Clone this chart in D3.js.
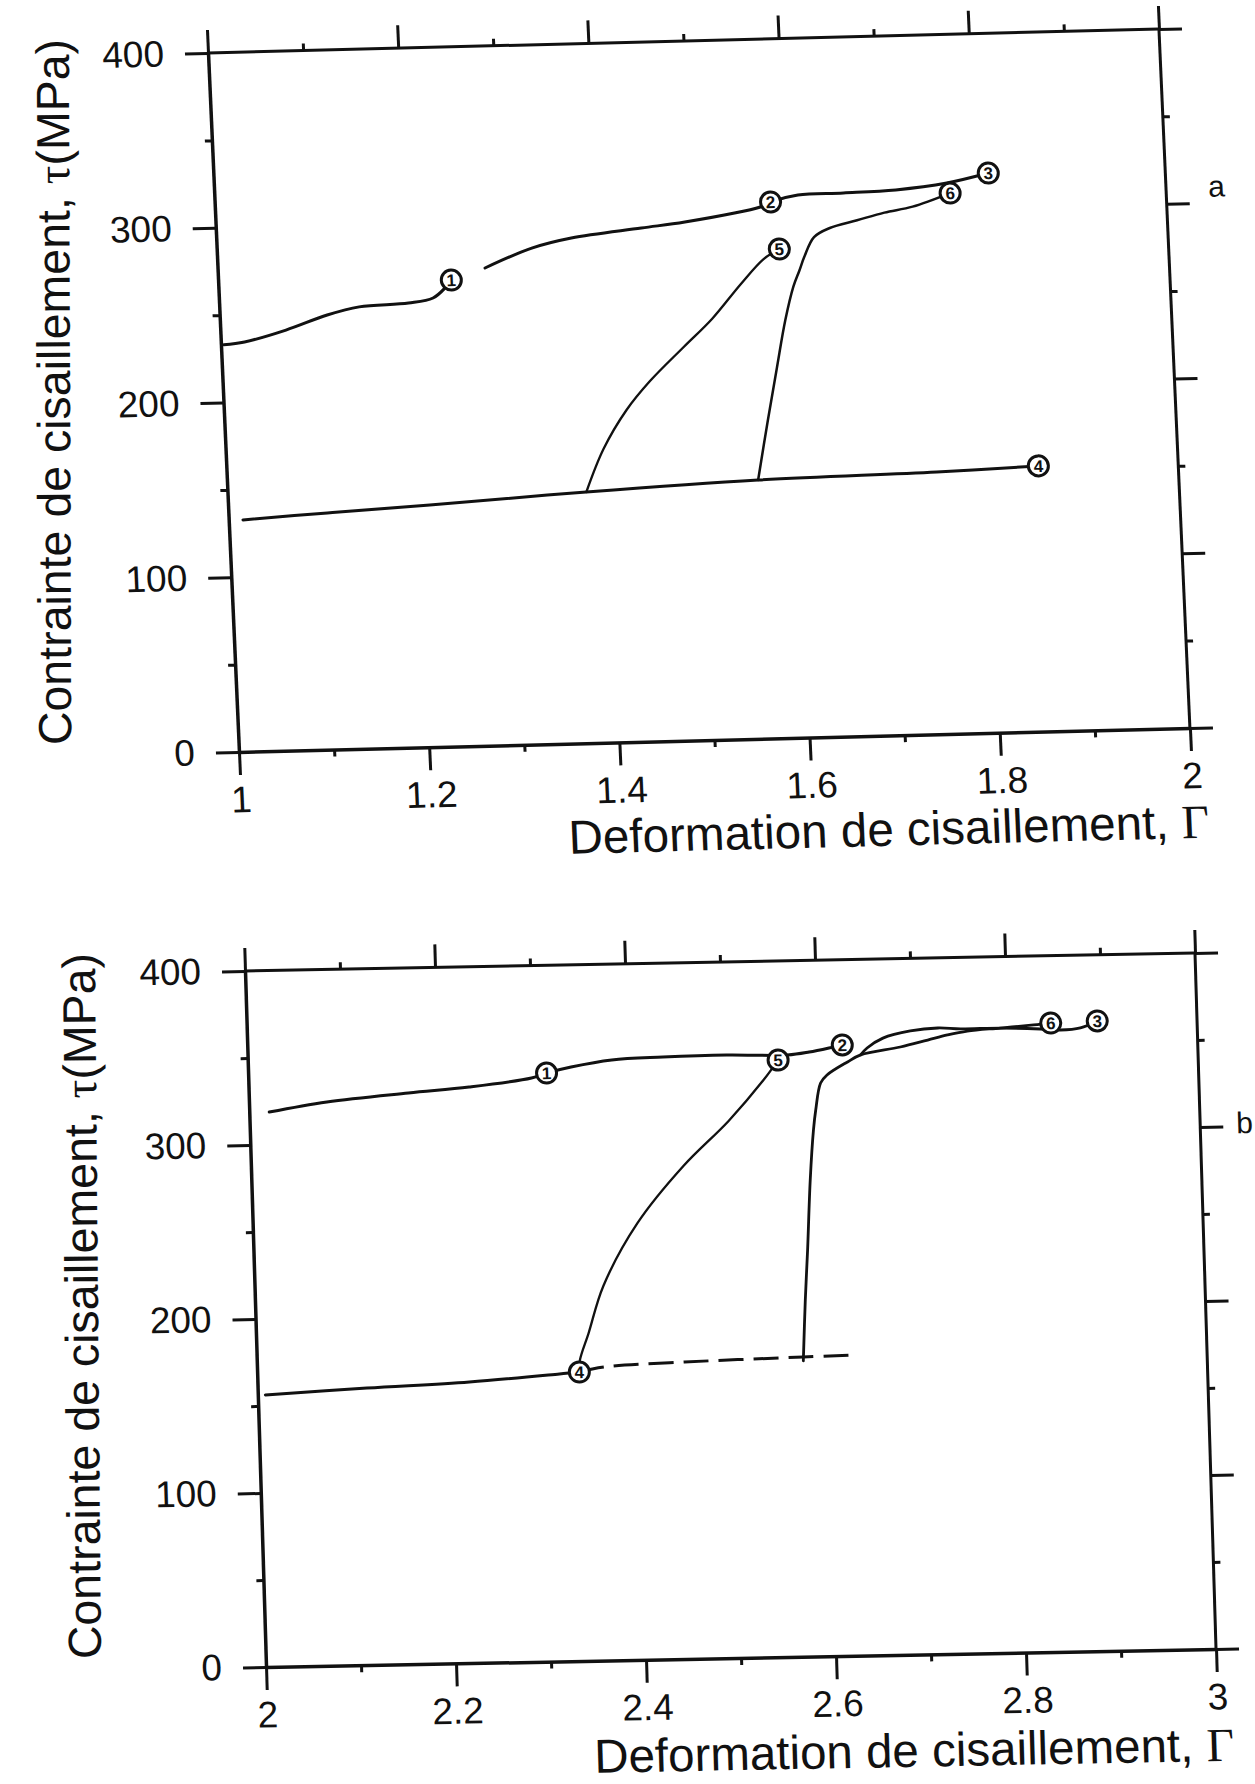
<!DOCTYPE html>
<html>
<head>
<meta charset="utf-8">
<script src="https://cdn.jsdelivr.net/npm/d3@7"></script>
<style>
  body { margin: 0; background: #fff; }
  svg { display: block; }
  text { font-family: "Liberation Sans", Arial, sans-serif; fill: #111; }
</style>
</head>
<body>
<div id="chart"></div>
<script>
// ticks
var xTicksA = [1, 1.2, 1.4, 1.6, 1.8, 2];
var xMinorA = [1.1, 1.3, 1.5, 1.7, 1.9];
var xTicksB = [2, 2.2, 2.4, 2.6, 2.8, 3];
var xMinorB = [2.1, 2.3, 2.5, 2.7, 2.9];
var yTicks = [0, 100, 200, 300, 400];
var yMinor = [50, 150, 250, 350];

// panel a : [Gamma, tau]
var a1Left = [[1.003, 233], [1.025, 234.3], [1.069, 240.5], [1.113, 248.5], [1.147, 252.7], [1.199, 254.2], [1.225, 256.7], [1.239, 262.8], [1.245, 266.7]];
var a1Right = [[1.281, 273.1], [1.331, 283.8], [1.373, 289], [1.447, 293.7], [1.493, 296.5], [1.573, 304], [1.584, 306.7], [1.613, 310.3], [1.661, 310.8], [1.716, 311.8], [1.770, 315], [1.814, 320.1]];
var a4 = [[1.015, 132.6], [1.104, 135.4], [1.212, 138.4], [1.377, 143.6], [1.558, 148], [1.746, 150], [1.853, 152]];
var a5 = [[1.377, 143.6], [1.397, 167.9], [1.423, 189.9], [1.449, 206.1], [1.486, 225.1], [1.517, 240.7], [1.549, 260.3], [1.574, 274.2], [1.591, 279.7]];
var a6 = [[1.558, 148], [1.571, 182], [1.583, 212], [1.594, 239], [1.604, 258], [1.611, 267], [1.617, 275], [1.628, 286], [1.645, 291], [1.674, 295], [1.703, 299], [1.733, 302], [1.773, 309.2]];
var markersA = [[1, 1.245, 266.7], [2, 1.584, 306.7], [3, 1.814, 320.1], [4, 1.853, 152], [5, 1.591, 279.7], [6, 1.773, 309.2]];

// panel b
var b1 = [[2.021, 318.7], [2.082, 323.9], [2.168, 328.2], [2.232, 330.9], [2.298, 335.4], [2.314, 338.1], [2.340, 341.3], [2.383, 344.9], [2.437, 346], [2.504, 346.5], [2.568, 345.8], [2.591, 347.3], [2.617, 350], [2.626, 351]];
var b3 = [[2.645, 345.1], [2.652, 349], [2.669, 354.5], [2.698, 358.3], [2.727, 359.7], [2.751, 358.9], [2.793, 359], [2.835, 358], [2.856, 357.2], [2.877, 358.2], [2.895, 362]];
var b6 = [[2.575, 170], [2.579, 204.9], [2.583, 233.6], [2.588, 273.8], [2.593, 302.5], [2.596, 313.9], [2.602, 329.4], [2.609, 333.9], [2.631, 341.2], [2.645, 345.1], [2.687, 349.2], [2.716, 352.9], [2.737, 355.6], [2.758, 357.6], [2.793, 359], [2.828, 360.4], [2.846, 361.3]];
var b5 = [[2.339, 166], [2.340, 172.9], [2.350, 188.3], [2.367, 215.2], [2.405, 251], [2.455, 283.2], [2.504, 308.6], [2.542, 331.7], [2.558, 343]];
var b4 = [[2.008, 156.3], [2.115, 159.1], [2.223, 161.5], [2.318, 165.1], [2.339, 166]];
var b4Dash = [[2.339, 166], [2.365, 168.6], [2.450, 170.6], [2.575, 172.2], [2.628, 172.8]];
var markersB = [[1, 2.314, 338.1], [2, 2.626, 351], [3, 2.895, 362], [4, 2.339, 166], [5, 2.558, 343], [6, 2.846, 361.3]];

var W = 1255, H = 1784;
var ink = "#111";
var font = "Liberation Sans, Arial, sans-serif";

var svg = d3.select("#chart").append("svg")
    .attr("width", W)
    .attr("height", H);

// the scan is slightly skewed, each panel gets its own matrix
var panels = [
    { tag: "a", m: [1.001, -0.0253, 0.0443, 1, 208, 53], w: 950, h: 699, dom: [1, 2],
      ticks: xTicksA, minor: xMinorA, titleDy: 110, tagDy: -6, tagDx: 42,
      yTitle: [70, 392, -90.2],
      lines: [[a1Left, 3], [a1Right, 3], [a4, 3], [a5, 2.3], [a6, 2.5]], dashed: [],
      markers: markersA },
    { tag: "b", m: [1, -0.019, 0.0302, 1, 245, 971], w: 950, h: 696, dom: [2, 3],
      ticks: xTicksB, minor: xMinorB, titleDy: 112, tagDy: 7, tagDx: 36,
      yTitle: [98, 1306, -90.5],
      lines: [[b1, 3], [b3, 2.8], [b6, 2.8], [b5, 2.3], [b4, 3]], dashed: [b4Dash],
      markers: markersB }
];

var fmt = function (d) { return String(d); };

panels.forEach(function (p) {
    var g = svg.append("g").attr("transform", "matrix(" + p.m.join(",") + ")");

    var x = d3.scaleLinear().domain(p.dom).range([0, p.w]);
    var y = d3.scaleLinear().domain([0, 400]).range([p.h, 0]);

    function axis(gen, vals, size, labels, tr) {
        var a = g.append("g")
            .attr("transform", tr)
            .call(gen.tickValues(vals).tickSize(size).tickSizeOuter(0)
                .tickPadding(11)
                .tickFormat(labels ? fmt : ""));
        a.attr("font-size", 37).attr("font-family", font);
        a.selectAll("line").attr("stroke", ink).attr("stroke-width", 3);
        a.select(".domain").attr("stroke", ink).attr("stroke-width", labels ? 3.5 : 0);
        a.selectAll("text").attr("fill", ink);
        return a;
    }

    // bottom
    axis(d3.axisBottom(x), p.ticks, 23, true, "translate(0," + p.h + ")");
    axis(d3.axisBottom(x), p.minor, 7, false, "translate(0," + p.h + ")");
    // top
    axis(d3.axisTop(x), p.ticks, 23, false, "translate(0,0)");
    axis(d3.axisTop(x), p.minor, 7, false, "translate(0,0)");
    g.append("line").attr("x1", 0).attr("x2", p.w).attr("stroke", ink).attr("stroke-width", 3);
    // left
    var la = axis(d3.axisLeft(y), yTicks, 23, true, "translate(0,0)");
    la.selectAll("text").attr("x", -44);
    axis(d3.axisLeft(y), yMinor, 7, false, "translate(0,0)");
    // right
    axis(d3.axisRight(y), yTicks, 23, false, "translate(" + p.w + ",0)");
    axis(d3.axisRight(y), yMinor, 7, false, "translate(" + p.w + ",0)");
    g.append("line").attr("x1", p.w).attr("x2", p.w).attr("y1", 0).attr("y2", p.h)
        .attr("stroke", ink).attr("stroke-width", 3);

    var line = d3.line()
        .x(function (d) { return x(d[0]); })
        .y(function (d) { return y(d[1]); })
        .curve(d3.curveCatmullRom.alpha(0.5));

    p.lines.forEach(function (l) {
        g.append("path")
            .attr("d", line(l[0]))
            .attr("fill", "none")
            .attr("stroke", ink)
            .attr("stroke-width", l[1])
            .attr("stroke-linecap", "round");
    });

    p.dashed.forEach(function (l) {
        g.append("path")
            .attr("d", line(l))
            .attr("fill", "none")
            .attr("stroke", ink)
            .attr("stroke-width", 3)
            .attr("stroke-dasharray", "25,10");
    });

    var mk = g.selectAll(".mk").data(p.markers).enter().append("g")
        .attr("class", "mk")
        .attr("transform", function (d) { return "translate(" + x(d[1]) + "," + y(d[2]) + ")"; });
    mk.append("circle")
        .attr("r", 10)
        .attr("fill", "#fff")
        .attr("stroke", ink)
        .attr("stroke-width", 3);
    mk.append("text")
        .attr("text-anchor", "middle")
        .attr("dy", "0.36em")
        .attr("font-size", 17)
        .attr("font-weight", "bold")
        .text(function (d) { return d[0]; });

    // x title
    var xt = g.append("text")
        .attr("x", p.w + 15)
        .attr("y", p.h + p.titleDy)
        .attr("text-anchor", "end")
        .attr("font-size", 47.5);
    xt.append("tspan").text("Deformation de cisaillement, ");
    xt.append("tspan").attr("font-family", "Liberation Serif, serif").text("Γ");

    // panel tag next to the right axis
    g.append("text")
        .attr("x", p.w + p.tagDx)
        .attr("y", y(300) + p.tagDy)
        .attr("font-size", 30)
        .text(p.tag);

    // y title, kept upright (outside the skew)
    var yt = svg.append("text")
        .attr("transform", "translate(" + p.yTitle[0] + "," + p.yTitle[1] + ") rotate(" + p.yTitle[2] + ")")
        .attr("text-anchor", "middle")
        .attr("font-size", 46.5);
    yt.append("tspan").text("Contrainte de cisaillement, ");
    yt.append("tspan").attr("font-family", "Liberation Serif, serif").text("τ");
    yt.append("tspan").text("(MPa)");
});
</script>
</body>
</html>
